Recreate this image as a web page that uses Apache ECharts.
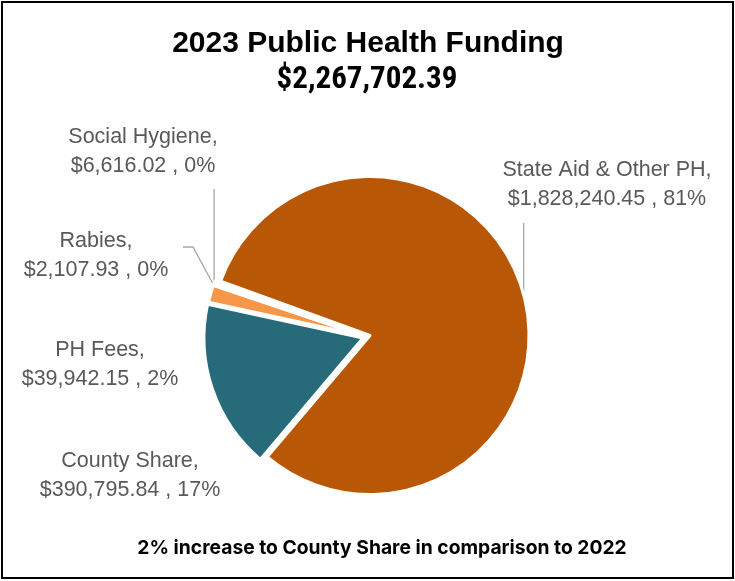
<!DOCTYPE html>
<html>
<head>
<meta charset="utf-8">
<script src="https://cdn.jsdelivr.net/npm/echarts@6/dist/echarts.min.js"></script>
<style>
html,body{margin:0;padding:0;background:#fff;}
#chart{width:735px;height:581px;}
</style>
</head>
<body>
<div id="chart"></div>
<script>
const categories = ['State Aid & Other PH', 'County Share', 'PH Fees', 'Rabies', 'Social Hygiene'];
const values = [1828240.45, 390795.84, 39942.15, 2107.93, 6616.02];
const colors = ['#B85806', '#276B7A', '#F79646', '#C0C0C0', '#4A7EBB'];
const titleText = '2023 Public Health Funding';
const totalText = '$2,267,702.39';
const noteText = '2% increase to County Share in comparison to 2022';

// layout only: label placement, exploded slice groups
const labelPos = [
  {x: 607, y: 185},
  {x: 130, y: 476},
  {x: 100, y: 365},
  {x: 96,  y: 256},
  {x: 143, y: 152}
];
const showLine = [true, false, false, true, true];
const groups = [
  {center: [370, 335.5], items: [0]},
  {center: [363, 338],   items: [1]},
  {center: [364, 336],   items: [2, 3, 4]}
];

function fmtMoney(v){
  return '$' + v.toLocaleString('en-US', {minimumFractionDigits:2, maximumFractionDigits:2});
}

function makeSeries(g){
  return {
    type: 'pie',
    center: g.center,
    radius: 159,
    startAngle: 160,
    clockwise: true,
    avoidLabelOverlap: false,
    emphasis: {disabled: true},
    silent: true,
    label: {
      show: true,
      position: 'outside',
      color: '#595959',
      fontFamily: '"Liberation Sans", Arial',
      fontSize: 21.5,
      lineHeight: 29,
      align: 'center',
      formatter: function(p){
        return p.name + ',\n' + fmtMoney(p.value) + ' , ' + Math.round(p.percent) + '%';
      }
    },
    labelLine: {show: true, lineStyle:{color:'#A6A6A6', width:1.3}},
    labelLayout: function(params){
      const i = params.dataIndex;
      const lp = labelPos[i];
      const p0 = params.labelLinePoints ? params.labelLinePoints[0] : null;
      let pts;
      if (p0) {
        if (i === 0) pts = [p0, [p0[0], lp.y + 38]];
        else if (i === 4) pts = [p0, [p0[0], lp.y + 37]];
        else if (i === 3) pts = [p0, [lp.x + 97, lp.y - 9], [lp.x + 87, lp.y - 9]];
      }
      const r = {x: lp.x, y: lp.y, align:'center', verticalAlign:'middle'};
      if (pts) r.labelLinePoints = pts;
      return r;
    },
    data: categories.map((c,i)=>{
      const vis = g.items.indexOf(i) >= 0;
      return {
        name: c,
        value: values[i],
        itemStyle: vis ? {color: colors[i], borderColor:'#fff', borderWidth:3}
                       : {color: 'rgba(0,0,0,0)', borderWidth:0},
        label: {show: vis},
        labelLine: {show: vis && showLine[i]}
      };
    })
  };
}

const chart = echarts.init(document.getElementById('chart'), null, {renderer:'canvas'});

chart.setOption({
  animation: false,
  graphic: [
    {type:'rect', shape:{x:2, y:2, width:731, height:576}, style:{fill:'none', stroke:'#000', lineWidth:2}, silent:true},
    {type:'text', x:368, y:44, style:{text:titleText, textAlign:'center', textVerticalAlign:'middle', font:'bold 30px "Liberation Sans", Arial', fill:'#000'}},
    {type:'text', x:367, y:80, style:{text:totalText, textAlign:'center', textVerticalAlign:'middle', font:'bold 31px "Liberation Sans Narrow", "Roboto Condensed", Arial', fill:'#000'}},
    {type:'text', x:382, y:548, style:{text:noteText, textAlign:'center', textVerticalAlign:'middle', font:'bold 19.3px Inter, "Noto Sans", Arial', fill:'#000'}}
  ],
  series: groups.map(makeSeries)
});
</script>
</body>
</html>
